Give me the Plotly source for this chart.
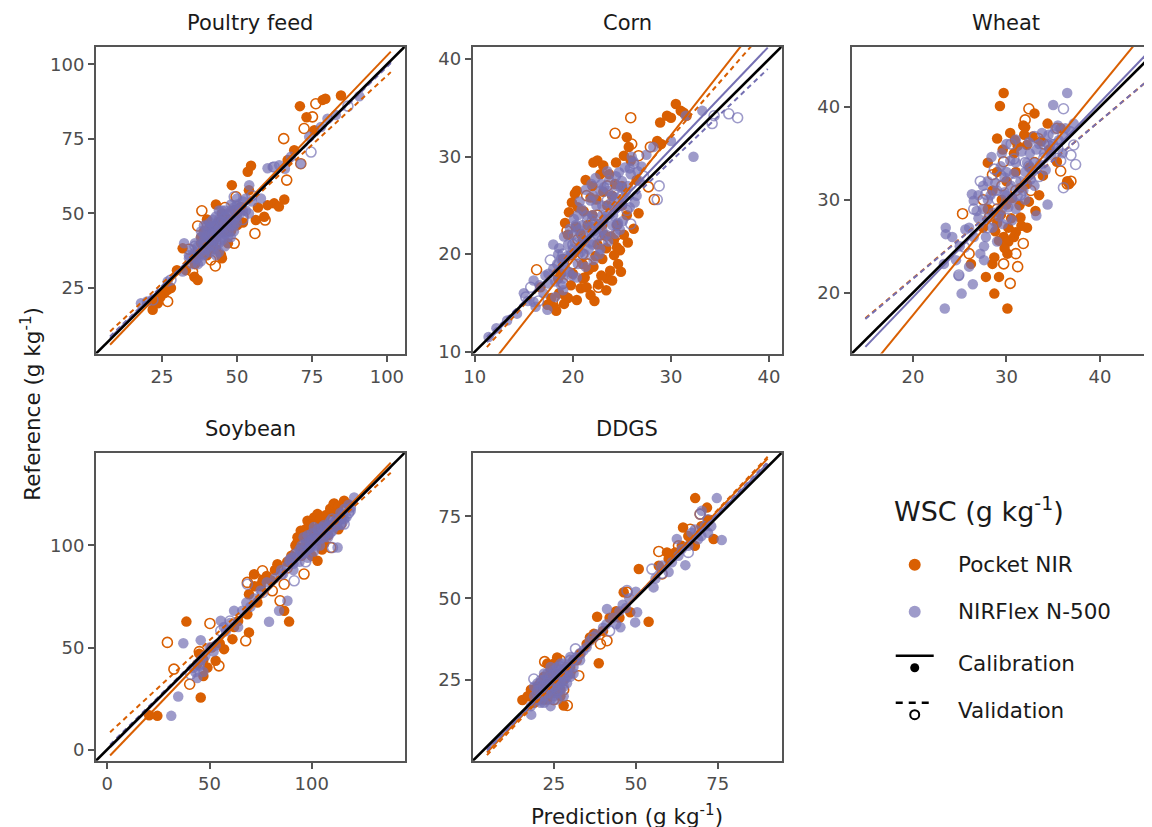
import plotly.graph_objects as go

# ---------------- colours ----------------
ORANGE = "#d95f02"
PURPLE = "#7570b3"

# ---------------- panels ----------------
CROPS = ["Poultry feed", "Corn", "Wheat", "Soybean", "DDGS"]

# axis limits (same for x and y in every panel)
AXIS_LIMITS = {
    "Poultry feed": (3.0, 106.0),
    "Corn": (9.8, 41.3),
    "Wheat": (13.44, 46.5),
    "Soybean": (-5.5, 145.5),
    "DDGS": (0.3, 94.5),
}
TICKS = {
    "Poultry feed": [25, 50, 75, 100],
    "Corn": [10, 20, 30, 40],
    "Wheat": [20, 30, 40],
    "Soybean": [0, 50, 100],
    "DDGS": [25, 50, 75],
}
# x-span of the fitted regression lines (data range)
LINE_SPAN = {
    "Poultry feed": (7.7, 101.3),
    "Corn": (11.23, 39.87),
    "Wheat": (14.9, 44.9),
    "Soybean": (1.4, 138.6),
    "DDGS": (4.6, 90.2),
}
# fitted lines: (slope, intercept) for Pocket cal, Pocket val, NIRFlex cal, NIRFlex val
FITS = {
    "Poultry feed": [(1.05, -2.1), (0.929, 3.3), (0.99, 0.6), (0.98, 1.2)],
    "Corn": [(1.28, -6.2), (1.145, -2.4), (1.054, -0.84), (0.96, 0.72)],
    "Wheat": [(1.228, -6.97), (0.847, 4.62), (1.047, -1.43), (0.85, 4.5)],
    "Soybean": [(1.046, -4.4), (0.927, 7.2), (1.0, -0.3), (0.99, 1.0)],
    "DDGS": [(1.05, -2.0), (1.066, -2.9), (1.02, -0.8), (1.03, -1.3)],
}

# ---------------- data: (prediction, reference) ----------------
POULTRY_POCKET_CAL = [(71, 86), (73.2, 82.3), (78.6, 88.1), (79.5, 88.5), (84.7, 89.6), (53.6, 64), (54.7, 66),
    (48.3, 59.5), (54, 57.8), (65.8, 54.7), (62.4, 53.4), (64, 52.3), (60.2, 52.8), (56.3, 47.8), (59.1, 48.9),
    (31.9, 38.3), (35.8, 28.8), (36.9, 27.7), (33, 31), (44.7, 36.1), (25.8, 23.3), (26.9, 24.4), (21.9, 17.7),
    (23.6, 19.9), (39.1, 41.1), (40.2, 43.3), (49.1, 51.1), (51.3, 52.2), (66.9, 67.9), (69.1, 71.2), (75.8, 77.9),
    (42, 45), (44, 47), (46, 44), (38, 40), (41, 38), (45, 50), (47, 48), (43, 42), (50, 46), (37, 36), (28, 25),
    (30, 31), (45, 35), (57, 52), (43, 53), (40, 48), (47, 40), (22.5, 20.5), (24.5, 22), (36, 33), (48, 44),
    (39, 44), (41, 46), (43, 38), (44, 44), (46, 49), (48, 47), (42, 40), (40, 36), (45, 46), (38, 42), (50, 50),
    (52, 47)]
POULTRY_POCKET_VAL = [(76.3, 86.8), (75.2, 82.4), (72.4, 78.5), (65.6, 75.1), (71.3, 66.7), (66.6, 61.2),
    (59.4, 47.8), (56, 43.3), (38.3, 50.9), (36.9, 45.8), (42.8, 32.4), (41.3, 34.4), (35.2, 30.5), (26.9, 20.5),
    (49.1, 40), (49.7, 55.6), (44, 47), (40, 41), (47, 45), (52, 49), (34, 38), (46, 52), (43, 40), (45, 44),
    (48, 50), (39, 37)]
POULTRY_NIR_CAL = [(18, 19.9), (20, 20.5), (26.9, 27.2), (31.9, 30.5), (60.2, 65.2), (61.9, 65.6), (64.1, 66.2),
    (71.3, 66.7), (74.1, 75.7), (80.2, 81.8), (90.8, 89.3), (54.1, 59.5), (58, 55), (32.4, 40), (35, 38), (36, 35),
    (38, 37), (38, 42), (39, 40), (40, 38), (40, 43), (41, 41), (42, 44), (42, 39), (43, 46), (43, 42), (44, 40),
    (44, 48), (45, 45), (45, 51), (46, 43), (46, 47), (47, 50), (47, 45), (48, 48), (49, 52), (50, 49), (50, 53),
    (51, 50), (52, 54), (53, 51), (37, 33), (34, 36), (48, 42), (44, 37), (39, 46), (55, 54), (66, 65), (68, 69),
    (78, 79), (83, 83), (41, 45), (43, 39), (45, 42), (46, 49), (49, 46), (39, 38), (42, 48), (48, 51), (36, 40),
    (34, 35), (35, 33), (36, 37), (37, 39), (37, 35), (38, 34), (38, 44), (39, 36), (39, 43), (40, 40), (40, 46),
    (41, 37), (41, 43), (42, 41), (42, 46), (43, 44), (43, 49), (44, 43), (44, 45), (45, 41), (45, 48), (46, 45),
    (46, 51), (47, 42), (47, 47), (48, 46), (48, 53), (49, 48), (49, 44), (50, 47), (51, 52), (52, 51), (53, 55),
    (54, 50), (41, 47), (44, 51), (46, 39), (39, 41), (43, 36), (50, 55)]
POULTRY_NIR_VAL = [(74.7, 70.6), (62.4, 65.6), (49.1, 55.6), (28, 27.7), (39, 36.6), (42, 43), (45, 47), (47, 44),
    (50, 51), (41, 40), (52, 48), (36, 39), (55, 56), (22, 21), (87, 86)]

CORN_POCKET_CAL = [(30.5, 35.4), (28.9, 33.5), (29.6, 34.2), (30, 34), (31, 34.7), (31.3, 34.5), (31.6, 34.2),
    (25.5, 32), (25.7, 31), (25.2, 30.1), (28.6, 31.6), (29, 31.3), (22.5, 29.6), (22.1, 29.4), (22.8, 28.2),
    (23.7, 28.2), (20.4, 26.5), (20.2, 26.2), (19.6, 24.3), (26.5, 27.6), (24.5, 20.7), (24.8, 20.4), (23.5, 17.5),
    (24, 17.3), (20.8, 16.5), (21.4, 16.6), (22.1, 18.7), (18, 14.6), (17.4, 14.8), (20.1, 20.1), (20.8, 22.1),
    (16.7, 16.6), (22, 24), (23, 23), (21, 21.5), (22.5, 21), (23.5, 25), (24, 26), (21.5, 23), (19, 19.5),
    (18.5, 17.5), (23, 19.5), (24.5, 23), (25, 25), (22, 27), (20, 18), (21, 19), (19.5, 22), (18.6, 16),
    (23.2, 22), (24.3, 27.2), (25.5, 24), (21.2, 17.6), (22.6, 16.9), (23.8, 18.3), (20.5, 24.8), (21.8, 25.8),
    (19.3, 15.6), (17.8, 15.5), (24.2, 21.5), (25, 27), (20.5, 20.5), (21.6, 18.4), (22.3, 19.8), (23.4, 20.6),
    (23.9, 21.8), (24.6, 19), (25.2, 22), (21, 17.5), (19.8, 16.8), (20.3, 22.8), (21.1, 24.4), (22.4, 25.6),
    (23.1, 26.4), (18.8, 18), (24.9, 18.2), (22.9, 17.8), (19.5, 15.5), (21.8, 15.8), (19.2, 23.2), (19.9, 25.3),
    (21.3, 27.6), (23.1, 29.1), (24.4, 29.4), (25.9, 29.6), (26.7, 24.2), (26.2, 22.6), (25.6, 21.2), (24.2, 19.9),
    (23.4, 16.3), (22.2, 15.2), (20.4, 15.3), (19.1, 14.9), (18.3, 14.2)]
CORN_POCKET_VAL = [(25.9, 34), (24.3, 32.4), (26, 31.3), (26.7, 30.1), (27.7, 26.9), (28.3, 25.6), (27.9, 31),
    (19.4, 22.4), (21.4, 26), (22.6, 16.6), (18.9, 15.1), (16.3, 18.4), (21, 20), (22, 23), (23, 21), (20, 19),
    (24, 25), (23.5, 27), (21.5, 19), (22.5, 24), (20.5, 21.5), (19, 17), (24.5, 22)]
CORN_NIR_CAL = [(33.2, 34.7), (32.3, 30), (30, 31.6), (31.5, 34.2), (28.2, 31), (25.9, 28.2), (16, 17.3),
    (16, 15.1), (17.4, 14.3), (11.4, 11.5), (12.2, 12.4), (13.3, 13.2), (14.3, 13.9), (18, 18.5), (18.5, 20),
    (19, 19), (19.5, 21), (20, 20.5), (20, 22), (20.5, 19), (21, 21.5), (21, 23), (21.5, 22), (22, 24), (22, 21),
    (22.5, 23), (23, 25), (23, 22.5), (23.5, 24), (24, 26), (24, 23), (24.5, 27), (25, 25), (25, 27.5), (19, 17.5),
    (17.5, 17), (20.5, 24), (21.8, 25.5), (22.7, 20), (26.5, 26), (27, 29), (23.5, 28.5), (18, 21), (15, 16),
    (26, 30), (19.6, 18.2), (20.8, 20.2), (21.6, 20.5), (22.2, 22.4), (23.2, 23.6), (24.2, 24.8), (24.8, 22.5),
    (25.4, 26.4), (17, 16), (18.8, 16.8), (22.8, 26.5), (24.4, 28), (17.5, 18), (18.2, 17.2), (18.8, 19.5),
    (19.2, 18.4), (19.8, 20), (20.2, 21.2), (20.6, 22.5), (21.2, 20), (21.4, 24), (21.8, 22.8), (22.2, 23.2),
    (22.4, 25), (22.6, 21.8), (23, 24), (23.4, 22), (23.6, 26.5), (23.8, 25.2), (24.1, 24), (24.4, 25.8),
    (24.6, 23.2), (24.9, 26.8), (25.2, 25.8), (25.6, 27), (20.3, 23), (19.4, 19.8), (18.4, 19), (21.7, 21.2),
    (22.9, 27.2), (25.8, 28.8), (26.8, 27.5), (20.9, 24.6), (22.1, 26), (19.9, 17.8), (18.6, 20.6), (19.1, 21.8),
    (19.7, 22.6), (20.1, 23.6), (20.7, 25.4), (21.3, 26.6), (21.9, 27.2), (22.3, 27.8), (23.2, 26.9), (23.7, 27.6),
    (24.7, 28.4), (25.3, 28.9), (26.2, 29.5), (26.6, 28.5), (27.5, 30.2), (20.4, 17.6), (21.3, 18.7), (22.1, 19.4),
    (22.8, 20.5), (23.6, 21.3), (24.3, 22.1), (25.1, 23.4), (25.8, 24.8), (26.3, 25.3), (17.2, 17.8), (16.6, 16.8),
    (18.2, 15.6), (19, 16.3), (15.4, 15.2), (16.2, 14.6)]
CORN_NIR_VAL = [(34.4, 34.2), (35.9, 34.4), (36.8, 34), (34.2, 33.4), (28.8, 27), (28.6, 25.6), (26.2, 29.3),
    (25.9, 23.1), (15.7, 16.6), (17.7, 19.4), (15.2, 15.6), (16.5, 15.2), (19, 20), (21, 22), (22, 23.5),
    (23, 21.5), (24, 24.5), (25, 26), (20, 21), (27.2, 28), (18.5, 18), (19.5, 19.5), (20.5, 20), (21.5, 23.5),
    (22.5, 22), (23.5, 25.5), (24.5, 23), (25.5, 24.5)]

WHEAT_POCKET_CAL = [(29.7, 41.5), (29.3, 40.1), (30.1, 18.3), (28.7, 19.9), (27.8, 21.7), (29.2, 21.7),
    (28.5, 23.1), (28.7, 23.8), (30.1, 24.2), (26.2, 23.1), (29.2, 25.6), (29.7, 26), (33.1, 28.8), (29, 36.6),
    (30.4, 37.2), (31.9, 37), (33, 39.3), (34.4, 38.2), (32.2, 35.9), (33.7, 36.3), (35.8, 37.7), (35.4, 34.1),
    (31.5, 31.3), (32.2, 31.7), (36.5, 32), (36.7, 31.7), (32.2, 27), (31.5, 28.1), (28, 29), (28.5, 31),
    (29.5, 30), (30, 32), (30.5, 28), (31, 33), (29, 27.5), (28, 34), (30.8, 35), (32.5, 33.5), (27.5, 27),
    (30, 29.5), (33.5, 30.5), (31, 26.5), (29, 33), (30.2, 25.5), (32.8, 36.8), (31.2, 35.8), (29.4, 28.4),
    (30.2, 27), (30.8, 26), (29.8, 24.8), (31.6, 27.2), (32.4, 29.8), (30.6, 30.2), (31.4, 29.4), (28.8, 26.6),
    (31.8, 38), (30.9, 36.4), (32, 37.8), (29.6, 35.4), (34.6, 35.4), (33.9, 32.6)]
WHEAT_POCKET_VAL = [(32.4, 39.8), (32, 38.6), (29.7, 34.1), (28.5, 32.7), (25.3, 28.5), (26, 24.2), (29.7, 23.1),
    (31, 24.2), (31.2, 22.8), (30.4, 21), (31.8, 25.3), (36.5, 31.7), (36.9, 32), (35.4, 37.7), (35.8, 33.1),
    (31, 31), (29, 29), (33, 34), (27.5, 30), (34, 36), (30.5, 26.5), (28.2, 28.2), (29.5, 31.5), (32.6, 31),
    (33.4, 36.6)]
WHEAT_NIR_CAL = [(36.5, 41.5), (35, 40.2), (23.4, 18.3), (25.2, 19.9), (26.4, 20.9), (23.5, 27), (23.5, 26.3),
    (23.3, 23.1), (24.9, 21.8), (27.2, 24.2), (27.6, 23.5), (26.3, 30.6), (26.5, 29.9), (34.4, 29.5), (33.2, 28.3),
    (36.3, 37.7), (37.2, 38.2), (27, 28), (28, 30), (28.5, 27), (29, 31), (29.5, 29), (30, 30.5), (30, 33),
    (30.5, 31.5), (31, 29), (31, 34), (31.5, 32), (32, 33), (32.5, 35), (33, 34), (33.5, 36), (34, 35), (34.5, 37),
    (35, 36), (35.5, 38), (28, 32), (29, 25.5), (25, 25), (26, 27), (32, 30), (36, 35), (29.5, 35), (31, 36.5),
    (27.5, 31.5), (33, 31.5), (28.6, 28.6), (30.6, 30), (29.8, 32.4), (32.6, 32.2), (34.2, 33.2), (27.8, 26),
    (27.5, 29), (28, 28), (28.3, 30.5), (28.8, 31.8), (29.2, 28.2), (29.4, 33.6), (29.8, 30.8), (30.2, 29.2),
    (30.4, 34.2), (30.8, 32.8), (31.2, 30.4), (31.6, 35.2), (31.8, 31), (32.2, 34), (32.4, 36.2), (32.8, 33),
    (33.2, 35.4), (33.6, 33.8), (33.8, 37.2), (34.4, 36), (34.8, 34.8), (35.2, 37.6), (35.6, 36.4), (26.5, 26),
    (27, 30.5), (27.6, 25), (26.8, 28.8), (29.6, 27.4), (30.6, 27.8), (24.2, 26), (25.6, 26.8), (24.6, 23.5),
    (26, 22.8), (36.2, 36.8), (36.8, 37.4), (30, 36), (28.4, 34.6)]
WHEAT_NIR_VAL = [(27.2, 32), (24.9, 21.9), (25.5, 24.9), (36.1, 39.8), (37.4, 33.8), (36.9, 34.8), (37.2, 35.9),
    (36.1, 31.3), (28.7, 33.3), (26.5, 29), (29, 30), (30, 28), (31, 32), (32, 34), (34, 34.5), (35, 37), (28, 27),
    (30.5, 36), (33.5, 32.5), (35.5, 35.5), (27.8, 30.6), (29.4, 32.6), (30.8, 34.4), (32.4, 33.6), (34.6, 35.8),
    (35.8, 34.2), (33, 36.8), (31.5, 30.5)]

SOY_POCKET_CAL = [(24.5, 16.5), (45.7, 25.5), (38.7, 62.7), (88.9, 62.7), (86.5, 68), (44, 41.8), (49, 40.2),
    (53, 43.5), (57.1, 49.2), (61.2, 54.1), (69.3, 57.4), (68.5, 66.3), (69.3, 76.1), (73.4, 72.1), (83.2, 90.8),
    (71.8, 85.9), (102.8, 92.5), (110.9, 120.3), (115.8, 121.9), (117.5, 120.3), (101.1, 113.7), (102.8, 115.4),
    (97.9, 112.1), (94.6, 107.2), (96, 104), (98, 100), (100, 108), (104, 110), (106, 112), (108, 105), (92, 100),
    (95, 95), (99, 96), (103, 102), (105, 98), (110, 110), (112, 115), (113, 108), (88, 92), (90, 95), (78, 85),
    (75, 80), (45, 47), (47, 36), (20.5, 16.8), (80, 83), (64, 63), (55, 52), (93, 104), (97, 108), (99, 110),
    (101, 106), (107, 115), (109, 118), (111, 116), (113, 119), (104, 113), (98, 103), (95, 99), (100, 95),
    (106, 101), (82, 88), (76, 83), (72, 80), (62, 60), (51, 50), (47, 44)]
SOY_POCKET_VAL = [(29.4, 52.5), (32.6, 39.4), (40.3, 32), (50.2, 61.8), (54.6, 41), (67.7, 53.3), (68.5, 81.9),
    (75.9, 87.6), (84.5, 72.9), (80.7, 77.8), (86.5, 81), (96.2, 86), (109.3, 99), (114.2, 110.5), (110.9, 120.3),
    (97, 105), (100, 110), (93, 101), (105, 103), (72, 84), (45, 48), (102, 107), (106, 111), (92, 96), (88, 89)]
SOY_NIR_CAL = [(31.3, 16.5), (34.7, 26), (37.2, 52.1), (45.7, 53.6), (79.1, 62.6), (88.1, 72.9), (84, 68), (62, 68),
    (55.5, 63.1), (120.7, 123.5), (119.1, 118.6), (112.6, 99), (42, 40), (44, 35), (46, 44), (47, 38), (50, 50),
    (52, 48), (57, 60), (60, 62), (64, 60), (66, 68), (75, 78), (78, 82), (82, 84), (85, 88), (88, 90), (90, 94),
    (92, 96), (94, 92), (95, 100), (96, 104), (98, 98), (99, 102), (100, 106), (101, 97), (102, 103), (103, 108),
    (104, 100), (105, 106), (106, 110), (108, 104), (109, 112), (110, 107), (112, 113), (114, 116), (115, 111),
    (116, 118), (117, 114), (118, 120), (98, 94), (91, 88), (86, 86), (89, 93), (91, 91), (93, 95), (94, 98),
    (96, 96), (97, 101), (98, 105), (99, 99), (100, 103), (101, 109), (102, 100), (103, 105), (104, 103),
    (105, 109), (106, 104), (107, 107), (108, 110), (109, 106), (110, 111), (111, 109), (113, 112), (114, 110),
    (115, 115), (116, 113), (119, 117), (72, 74), (70, 70), (68, 72), (58, 58), (53, 51), (48, 46), (45, 41),
    (43, 38)]
SOY_NIR_VAL = [(40.8, 36.9), (68.5, 81), (91.4, 82.7), (110.1, 99), (115.8, 110.5), (55.5, 58.2), (45, 42),
    (60, 63), (85, 86), (95, 97), (100, 101), (105, 104), (108, 108), (112, 110), (118, 116), (76, 77), (97, 92),
    (90, 92), (102, 104), (110, 113), (114, 113), (99, 99)]

DDGS_POCKET_CAL = [(68.1, 80.6), (53.9, 42.8), (38.7, 30.1), (50.9, 58.9), (38.2, 44.3), (64.4, 71.6), (73.7, 68.1),
    (59.5, 64), (57, 59.9), (46.3, 51.8), (48.3, 45.7), (15.4, 18.9), (28, 17.2), (26, 31.9), (37.2, 39.1),
    (71.7, 77.7), (20, 20), (21, 23), (22, 19), (22, 26), (23, 22), (24, 24), (24, 28), (25, 21), (25, 26), (26, 23),
    (27, 27), (27, 20), (28, 25), (29, 29), (30, 27), (18, 22), (19, 18), (23, 30), (31, 31), (33, 33), (35, 36),
    (42, 44), (44, 46), (62, 64), (66, 69), (70, 72), (68, 66), (19, 21), (20, 23), (21, 20), (22, 24), (23, 19),
    (23, 26), (24, 21), (25, 24), (25, 30), (26, 25), (27, 22), (28, 28), (29, 27), (30, 29), (32, 31), (17, 20),
    (36, 38), (40, 40), (45, 44), (60, 62), (64, 66), (72, 74)]
DDGS_POCKET_VAL = [(57, 64.3), (69.6, 75.7), (66.6, 71.1), (29.1, 17.2), (22.2, 30.6), (32.6, 26.3), (39.2, 36),
    (41.2, 37), (47.3, 51.8), (58, 57.4), (20, 22), (23, 25), (25, 19), (26, 28), (28, 22), (24, 21), (44, 45),
    (63, 66), (21, 24), (22, 20), (24, 23), (25, 26), (27, 25), (27, 31)]
DDGS_NIR_CAL = [(74.7, 80.6), (76.2, 67.8), (65.1, 60.1), (50.4, 45.7), (49.8, 42.6), (45.3, 41.1), (41.2, 46.7),
    (18.1, 14.4), (70.1, 76.7), (62.5, 68.1), (55.4, 53.3), (19, 20), (20, 24), (21, 18), (21, 22), (22, 25),
    (22, 20), (23, 23), (23, 27), (24, 19), (24, 22), (25, 25), (25, 28), (26, 21), (26, 24), (27, 26), (27, 30),
    (28, 23), (28, 28), (29, 26), (30, 30), (31, 29), (32, 32), (34, 34), (36, 37), (40, 41), (43, 44), (46, 48),
    (48, 50), (58, 60), (60, 58), (64, 65), (67, 70), (69, 68), (71, 72), (72, 70), (18, 17), (19, 23), (20, 19),
    (20, 22), (21, 20), (21, 25), (22, 18), (22, 22), (22, 27), (23, 21), (23, 25), (24, 17), (24, 24), (24, 29),
    (25, 20), (25, 23), (25, 27), (26, 19), (26, 26), (26, 29), (27, 22), (27, 24), (27, 28), (28, 20), (28, 26),
    (28, 30), (29, 24), (29, 28), (30, 26), (30, 32), (31, 27), (31, 31), (33, 31), (35, 35), (38, 39), (41, 42),
    (44, 42), (45, 46), (47, 47), (50, 52), (56, 56), (61, 61), (63, 63), (66, 66), (68, 71), (70, 69), (73, 72)]
DDGS_NIR_VAL = [(69.6, 75.7), (58, 57.6), (54.9, 58.9), (47.3, 52.3), (31.6, 34.5), (18.9, 25.3), (20, 21),
    (22, 23), (24, 26), (26, 22), (27, 29), (29, 27), (37, 38), (42, 40), (66, 64), (72, 74), (21, 19), (23, 24),
    (25, 23), (26, 27), (28, 25), (30, 31), (33, 33)]

PANEL_DATA = {
    "Poultry feed": [POULTRY_POCKET_CAL, POULTRY_POCKET_VAL, POULTRY_NIR_CAL, POULTRY_NIR_VAL],
    "Corn": [CORN_POCKET_CAL, CORN_POCKET_VAL, CORN_NIR_CAL, CORN_NIR_VAL],
    "Wheat": [WHEAT_POCKET_CAL, WHEAT_POCKET_VAL, WHEAT_NIR_CAL, WHEAT_NIR_VAL],
    "Soybean": [SOY_POCKET_CAL, SOY_POCKET_VAL, SOY_NIR_CAL, SOY_NIR_VAL],
    "DDGS": [DDGS_POCKET_CAL, DDGS_POCKET_VAL, DDGS_NIR_CAL, DDGS_NIR_VAL],
}

LEGEND_TITLE = "WSC (g kg<sup>-1</sup>)"
LEGEND_LABELS = ["Pocket NIR", "NIRFlex N-500", "Calibration", "Validation"]

# ---------------- layout geometry ----------------
W, H = 1152, 827
# measured placement of the rendered figure on screen: screen = OFF + SC * layout
OFF_X, SC_X = 16.0, 0.9925
OFF_Y, SC_Y = 7.5, 0.99


def fx(px):
    return (px - OFF_X) / SC_X / W


def fy(py):
    return 1 - (py - OFF_Y) / SC_Y / H


# panel boxes in target (screen) pixels
PANEL_BOX = [(95, 404, 46, 353), (472, 781, 46, 353), (851, 1160, 46, 353),
             (95, 404, 452, 760), (472, 781, 452, 760)]
TITLE_Y = [22, 22, 22, 428, 428]

FONT = "DejaVu Sans"
TICK_GREY = "#4d4d4d"
BOX_GREY = "#555555"
TEXT = "#1a1a1a"

fig = go.Figure()
layout_axes = {}
annotations = []

SERIES_STYLE = [
    dict(color=ORANGE, opacity=1.0, open=False),
    dict(color=ORANGE, opacity=1.0, open=True),
    dict(color=PURPLE, opacity=0.7, open=False),
    dict(color=PURPLE, opacity=0.7, open=True),
]

FIG_RIGHT = OFF_X + SC_X * W  # right edge of the figure on screen

for i, crop in enumerate(CROPS):
    n = i + 1
    xs = "x" if n == 1 else f"x{n}"
    ys = "y" if n == 1 else f"y{n}"
    x0, x1, y0, y1 = PANEL_BOX[i]
    lo, hi = AXIS_LIMITS[crop]
    x1c = min(x1, FIG_RIGHT)
    xr_hi = lo + (hi - lo) * (x1c - x0) / (x1 - x0)
    clipped = x1 > FIG_RIGHT

    for s, pts in enumerate(PANEL_DATA[crop]):
        st = SERIES_STYLE[s]
        px = [p[0] for p in pts]
        py = [p[1] for p in pts]
        if st["open"]:
            marker = dict(symbol="circle-open", size=10, color=st["color"], opacity=st["opacity"],
                          line=dict(width=1.6, color=st["color"]))
        else:
            marker = dict(symbol="circle", size=10.5, color=st["color"], opacity=st["opacity"],
                          line=dict(width=0))
        fig.add_trace(go.Scatter(x=px, y=py, mode="markers", marker=marker, xaxis=xs, yaxis=ys,
                                 showlegend=False, hoverinfo="skip"))

    a, b = LINE_SPAN[crop]
    for s, (slope, icpt) in enumerate(FITS[crop]):
        st = SERIES_STYLE[s]
        fig.add_trace(go.Scatter(
            x=[a, b], y=[slope * a + icpt, slope * b + icpt], mode="lines",
            line=dict(color=st["color"], width=2, dash="5px,4px" if st["open"] else "solid"),
            xaxis=xs, yaxis=ys, showlegend=False, hoverinfo="skip"))

    fig.add_trace(go.Scatter(x=[lo, hi], y=[lo, hi], mode="lines",
                             line=dict(color="black", width=2.6),
                             xaxis=xs, yaxis=ys, showlegend=False, hoverinfo="skip"))

    axis_common = dict(showline=True, linecolor=BOX_GREY, linewidth=2, ticks="outside", ticklen=6,
                       tickwidth=1.8, tickcolor=BOX_GREY, showgrid=False, zeroline=False,
                       tickfont=dict(family=FONT, size=18, color=TICK_GREY),
                       tickvals=TICKS[crop], fixedrange=True)
    layout_axes["xaxis" if n == 1 else f"xaxis{n}"] = dict(
        axis_common, domain=[fx(x0), min(fx(x1c), 1.0)], range=[lo, xr_hi], anchor=ys, mirror=True)
    layout_axes["yaxis" if n == 1 else f"yaxis{n}"] = dict(
        axis_common, domain=[fy(y1), fy(y0)], range=[lo, hi], anchor=xs, mirror=not clipped)

    annotations.append(dict(text=crop, x=fx((x0 + x1) / 2), y=fy(TITLE_Y[i]), xref="paper",
                            yref="paper", showarrow=False, xanchor="center", yanchor="middle",
                            font=dict(family=FONT, size=21, color=TEXT)))

annotations.append(dict(text="Prediction (g kg<sup>-1</sup>)", x=fx(626), y=fy(814), xref="paper",
                        yref="paper", showarrow=False, xanchor="center", yanchor="middle",
                        font=dict(family=FONT, size=21.5, color=TEXT)))
# kept just inside the figure's left edge so it is not clipped
annotations.append(dict(text="Reference (g kg<sup>-1</sup>)", x=fx(30), y=fy(403), xref="paper",
                        yref="paper", showarrow=False, xanchor="center", yanchor="middle", textangle=-90,
                        font=dict(family=FONT, size=21.5, color=TEXT)))

# ---------------- manual legend (own invisible axes, pixel units) ----------------
LX0, LX1, LY0, LY1 = 880, 1130, 490, 740
layout_axes["xaxis6"] = dict(domain=[fx(LX0), fx(LX1)], range=[LX0, LX1], anchor="y6", visible=False,
                             fixedrange=True)
layout_axes["yaxis6"] = dict(domain=[fy(LY1), fy(LY0)], range=[LY1, LY0], anchor="x6", visible=False,
                             fixedrange=True)
SYM_X = 914
ROW_Y = [564, 611, 663, 710]
fig.add_trace(go.Scatter(x=[SYM_X], y=[ROW_Y[0]], mode="markers", xaxis="x6", yaxis="y6",
                         marker=dict(color=ORANGE, size=12), showlegend=False, hoverinfo="skip",
                         name=LEGEND_LABELS[0]))
fig.add_trace(go.Scatter(x=[SYM_X], y=[ROW_Y[1]], mode="markers", xaxis="x6", yaxis="y6",
                         marker=dict(color=PURPLE, size=12, opacity=0.7), showlegend=False, hoverinfo="skip",
                         name=LEGEND_LABELS[1]))
fig.add_trace(go.Scatter(x=[SYM_X - 19, SYM_X + 19], y=[ROW_Y[2] - 8, ROW_Y[2] - 8], mode="lines",
                         xaxis="x6", yaxis="y6", line=dict(color="black", width=2.5),
                         showlegend=False, hoverinfo="skip", name=LEGEND_LABELS[2]))
fig.add_trace(go.Scatter(x=[SYM_X], y=[ROW_Y[2] + 4], mode="markers", xaxis="x6", yaxis="y6",
                         marker=dict(color="black", size=9), showlegend=False, hoverinfo="skip"))
fig.add_trace(go.Scatter(x=[SYM_X - 19, SYM_X + 19], y=[ROW_Y[3] - 8, ROW_Y[3] - 8], mode="lines",
                         xaxis="x6", yaxis="y6", line=dict(color="black", width=2.5, dash="7px,6px"),
                         showlegend=False, hoverinfo="skip", name=LEGEND_LABELS[3]))
fig.add_trace(go.Scatter(x=[SYM_X], y=[ROW_Y[3] + 4], mode="markers", xaxis="x6", yaxis="y6",
                         marker=dict(color="black", size=9, symbol="circle-open", line=dict(width=2, color="black")),
                         showlegend=False, hoverinfo="skip"))

annotations.append(dict(text=LEGEND_TITLE, x=fx(891), y=fy(509), xref="paper", yref="paper", showarrow=False,
                        xanchor="left", yanchor="middle", font=dict(family=FONT, size=27, color=TEXT)))
for label, ry in zip(LEGEND_LABELS, ROW_Y):
    annotations.append(dict(text=label, x=fx(955), y=fy(ry), xref="paper", yref="paper", showarrow=False,
                            xanchor="left", yanchor="middle", font=dict(family=FONT, size=21.5, color=TEXT)))

fig.update_layout(
    width=W, height=H, margin=dict(l=0, r=0, t=0, b=0),
    paper_bgcolor="white", plot_bgcolor="white",
    font=dict(family=FONT, color=TEXT),
    annotations=annotations,
    showlegend=False,
    **layout_axes,
)

fig.write_html("out.html")
